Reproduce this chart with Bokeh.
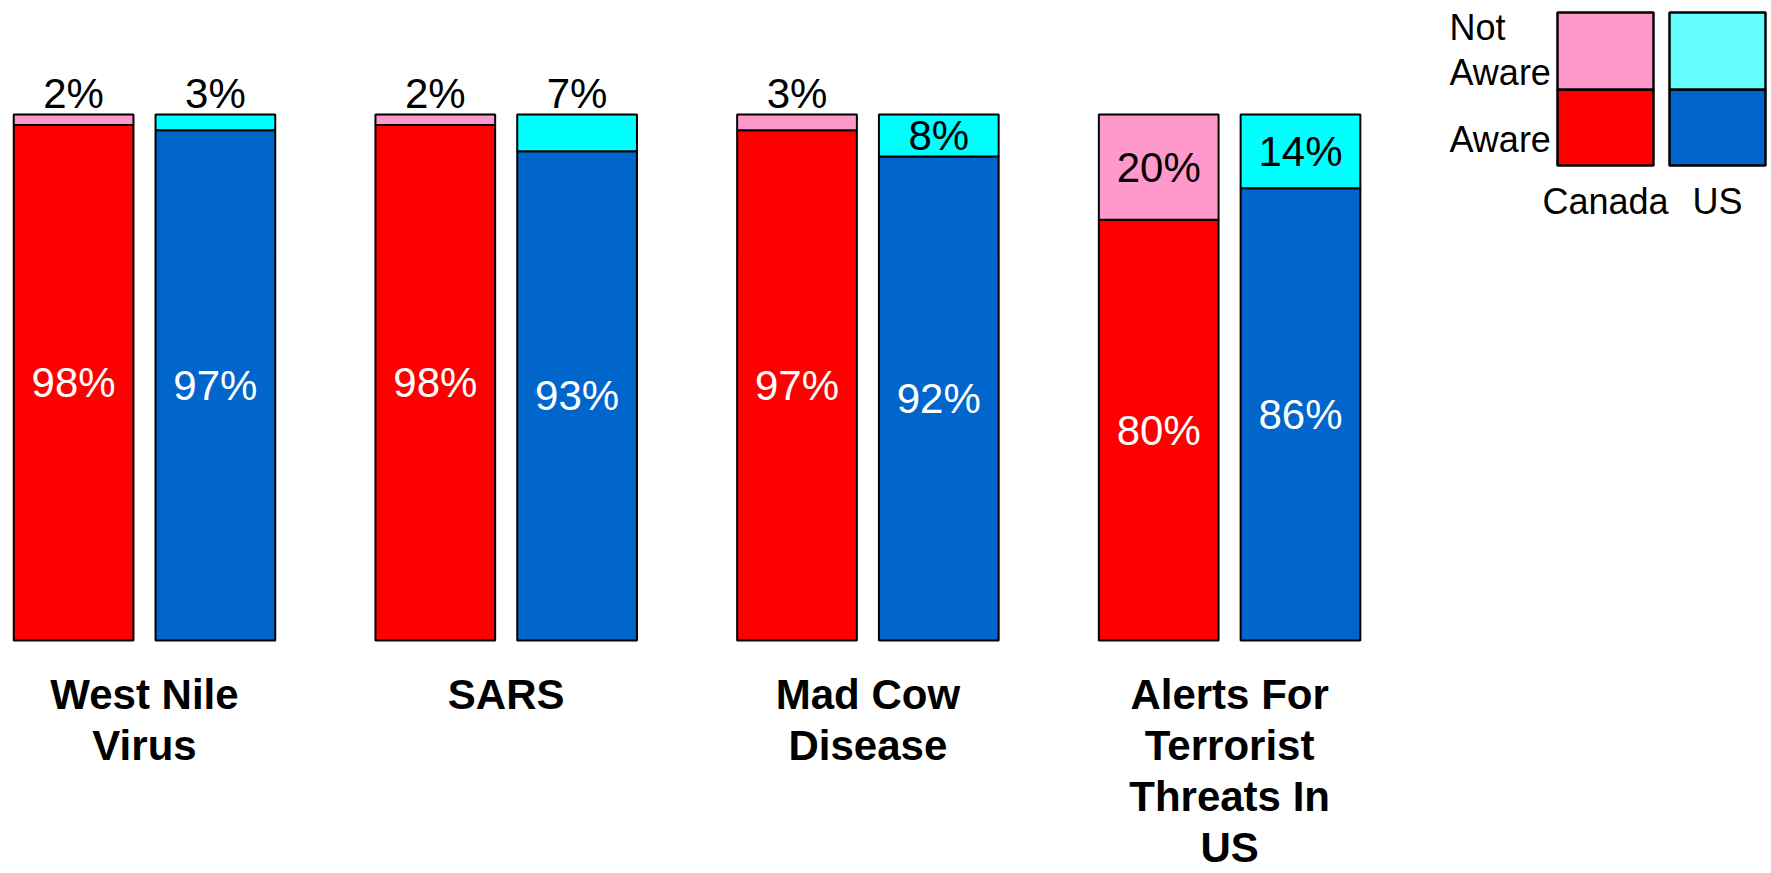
from bokeh.plotting import figure
from bokeh.models import Range1d
from bokeh.embed import file_html
from bokeh.resources import INLINE
from bokeh.core.properties import value

# ---------------- data ----------------
categories = ["West Nile\nVirus", "SARS", "Mad Cow\nDisease",
              "Alerts For\nTerrorist\nThreats In\nUS"]
canada_aware = [98, 98, 97, 80]
canada_not_aware = [2, 2, 3, 20]
us_aware = [97, 93, 92, 86]
us_not_aware = [3, 7, 8, 14]
countries = ["Canada", "US"]
legend_rows = ["Not\nAware", "Aware"]

# ---------------- styles ----------------
FONT = value("Liberation Sans")
AWARE_COLORS = {"Canada": "#FF0000", "US": "#0066CC"}
NOT_COLORS = {"Canada": "#FF99CC", "US": "#00FFFF"}
LEGEND_NOT_COLORS = {"Canada": "#FF99CC", "US": "#66FFFF"}

W, H = 1771, 873
PX_X = 361.7            # pixels per category unit
PX_Y = 5.26             # pixels per percentage point
X0 = -144 / PX_X
Y_TOP = 100 + 114 / PX_Y
Y_BOT = -(H - 640) / PX_Y
OFFSET = 0.196
BAR_W = 0.331


def px_x(px):
    return X0 + px / PX_X


def px_y(py):
    return Y_TOP - py / PX_Y


p = figure(width=W, height=H, output_backend="svg", toolbar_location=None,
           x_range=Range1d(X0, X0 + W / PX_X), y_range=Range1d(Y_BOT, Y_TOP),
           min_border=0, outline_line_color=None)
p.axis.visible = False
p.grid.visible = False
p.background_fill_color = "white"
p.border_fill_color = "white"

series = {"Canada": (canada_aware, canada_not_aware, -OFFSET),
          "US": (us_aware, us_not_aware, OFFSET)}

for c in countries:
    aware, not_aware, off = series[c]
    xs = [i + off for i in range(len(categories))]
    tops = [a + n for a, n in zip(aware, not_aware)]
    p.vbar(x=xs, width=BAR_W, bottom=0, top=aware, fill_color=AWARE_COLORS[c],
           line_color="black", line_width=2)
    p.vbar(x=xs, width=BAR_W, bottom=aware, top=tops, fill_color=NOT_COLORS[c],
           line_color="black", line_width=2)
    # aware labels (white, centred)
    p.text(x=xs, y=[a / 2 for a in aware], text=[f"{a}%" for a in aware],
           text_font=FONT, text_font_size="42px", text_color="white",
           text_align="center", text_baseline="middle")
    # not-aware labels: inside if large enough, else above bar
    ly = [(a + t) / 2 if n >= 8 else t + 4 for a, t, n in zip(aware, tops, not_aware)]
    p.text(x=xs, y=ly, text=[f"{n}%" for n in not_aware],
           text_font=FONT, text_font_size="42px", text_color="black",
           text_align="center", text_baseline="middle")

# category labels (multi-line, bold)
LINE_STEP = 51 / PX_Y
cx, cy, ct = [], [], []
for i, cat in enumerate(categories):
    for k, line in enumerate(cat.split("\n")):
        cx.append(i)
        cy.append(px_y(694) - k * LINE_STEP)
        ct.append(line)
p.text(x=cx, y=cy, text=ct, text_font=FONT, text_font_size="42px",
       text_font_style="bold", text_color="black",
       text_align="center", text_baseline="middle")

# legend
leg_x = {"Canada": (1557, 1653), "US": (1669, 1765)}
leg_top, leg_mid, leg_bot = 12, 89, 165
for c in countries:
    l, r = leg_x[c]
    p.quad(left=[px_x(l)], right=[px_x(r)], bottom=[px_y(leg_bot)], top=[px_y(leg_mid)],
           fill_color=AWARE_COLORS[c], line_color="black", line_width=2.5)
    p.quad(left=[px_x(l)], right=[px_x(r)], bottom=[px_y(leg_mid)], top=[px_y(leg_top)],
           fill_color=LEGEND_NOT_COLORS[c], line_color="black", line_width=2.5)
p.text(x=[px_x((a + b) / 2) for a, b in leg_x.values()], y=[px_y(201)] * 2,
       text=countries, text_font=FONT, text_font_size="36px", text_color="black",
       text_align="center", text_baseline="middle")
not_lines = legend_rows[0].split("\n")
p.text(x=[px_x(1449)] * 3, y=[px_y(27), px_y(72), px_y(139)],
       text=not_lines + [legend_rows[1]], text_font=FONT, text_font_size="36px",
       text_color="black", text_align="left", text_baseline="middle")

open("out.html", "w").write(file_html(p, INLINE))
